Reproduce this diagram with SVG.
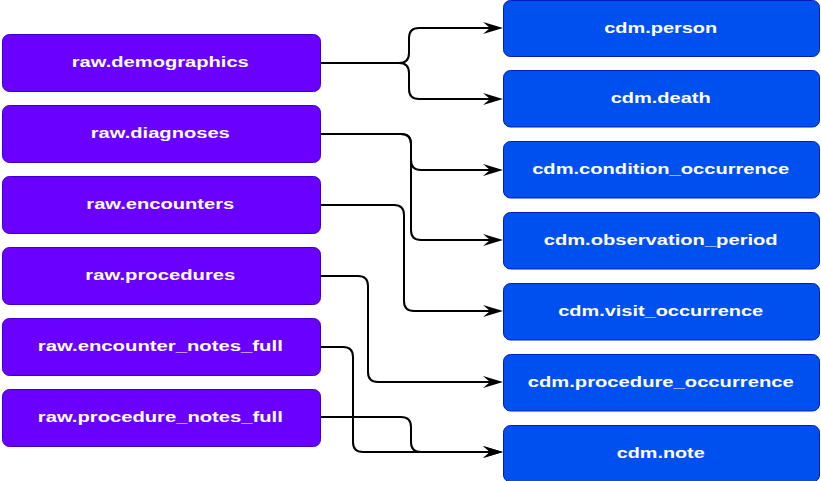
<svg xmlns="http://www.w3.org/2000/svg" width="821" height="481" viewBox="0 0 821 481">
  <style>
    .src rect { fill: #6a00ff; stroke: #3700cc; stroke-width: 1; }
    .dst rect { fill: #0050ef; stroke: #001dbc; stroke-width: 1; }
    text { font-family: "Liberation Sans", Arial, Helvetica, sans-serif; font-weight: bold; font-size: 14px; fill: #ffffff; text-anchor: middle; }
    .edge { fill: none; stroke: #000000; stroke-width: 2; marker-end: url(#arrow); }
  </style>
  <defs>
    <marker id="arrow" viewBox="0 0 20 12" markerWidth="20" markerHeight="12" refX="7" refY="6" orient="auto" markerUnits="userSpaceOnUse">
      <path d="M0,0 L20,6 L0,12 L7,6 Z" fill="#000000"/>
    </marker>
  </defs>
  <rect width="821" height="481" fill="#ffffff"/>

  <g id="connectors">
    <path class="edge" d="M321,63 H399 Q409,63 409,53 V38 Q409,28 419,28 H490"/>
    <path class="edge" d="M321,63 H399 Q409,63 409,73 V89 Q409,99 419,99 H490"/>
    <path class="edge" d="M321,134 H401 Q411,134 411,144 V160 Q411,170 421,170 H490"/>
    <path class="edge" d="M321,134 H401 Q411,134 411,144 V230 Q411,240 421,240 H490"/>
    <path class="edge" d="M321,205 H394 Q404,205 404,215 V301 Q404,311 414,311 H490"/>
    <path class="edge" d="M321,276 H358 Q368,276 368,286 V372 Q368,382 378,382 H490"/>
    <path class="edge" d="M321,347 H343 Q353,347 353,357 V442 Q353,452 363,452 H490"/>
    <path class="edge" d="M321,417 H401 Q411,417 411,427 V442 Q411,452 421,452 H490"/>
  </g>

  <g id="raw_demographics" class="src">
    <rect x="2.5" y="34.5" width="318" height="57" rx="7"/>
    <text x="160.3" y="67" textLength="177" lengthAdjust="spacingAndGlyphs">raw.demographics</text>
  </g>
  <g id="raw_diagnoses" class="src">
    <rect x="2.5" y="105.5" width="318" height="57" rx="7"/>
    <text x="160.3" y="138" textLength="139" lengthAdjust="spacingAndGlyphs">raw.diagnoses</text>
  </g>
  <g id="raw_encounters" class="src">
    <rect x="2.5" y="176.5" width="318" height="57" rx="7"/>
    <text x="160.3" y="209" textLength="148" lengthAdjust="spacingAndGlyphs">raw.encounters</text>
  </g>
  <g id="raw_procedures" class="src">
    <rect x="2.5" y="247.5" width="318" height="57" rx="7"/>
    <text x="160.3" y="280" textLength="150" lengthAdjust="spacingAndGlyphs">raw.procedures</text>
  </g>
  <g id="raw_encounter_notes_full" class="src">
    <rect x="2.5" y="318.5" width="318" height="57" rx="7"/>
    <text x="160.3" y="351" textLength="245" lengthAdjust="spacingAndGlyphs">raw.encounter_notes_full</text>
  </g>
  <g id="raw_procedure_notes_full" class="src">
    <rect x="2.5" y="389.5" width="318" height="57" rx="7"/>
    <text x="160.3" y="421.5" textLength="245" lengthAdjust="spacingAndGlyphs">raw.procedure_notes_full</text>
  </g>

  <g id="cdm_person" class="dst">
    <rect x="503.5" y="0.5" width="316" height="56" rx="7"/>
    <text x="660.7" y="32.5" textLength="113" lengthAdjust="spacingAndGlyphs">cdm.person</text>
  </g>
  <g id="cdm_death" class="dst">
    <rect x="503.5" y="70.5" width="316" height="56.5" rx="7"/>
    <text x="660.7" y="103" textLength="100" lengthAdjust="spacingAndGlyphs">cdm.death</text>
  </g>
  <g id="cdm_condition_occurrence" class="dst">
    <rect x="503.5" y="141.5" width="316" height="56.5" rx="7"/>
    <text x="660.7" y="174" textLength="257" lengthAdjust="spacingAndGlyphs">cdm.condition_occurrence</text>
  </g>
  <g id="cdm_observation_period" class="dst">
    <rect x="503.5" y="212.5" width="316" height="56.5" rx="7"/>
    <text x="660.7" y="245" textLength="234" lengthAdjust="spacingAndGlyphs">cdm.observation_period</text>
  </g>
  <g id="cdm_visit_occurrence" class="dst">
    <rect x="503.5" y="283.5" width="316" height="56.5" rx="7"/>
    <text x="660.7" y="316" textLength="205" lengthAdjust="spacingAndGlyphs">cdm.visit_occurrence</text>
  </g>
  <g id="cdm_procedure_occurrence" class="dst">
    <rect x="503.5" y="354.5" width="316" height="56.5" rx="7"/>
    <text x="660.7" y="387" textLength="266" lengthAdjust="spacingAndGlyphs">cdm.procedure_occurrence</text>
  </g>
  <g id="cdm_note" class="dst">
    <rect x="503.5" y="425.5" width="316" height="56.5" rx="7"/>
    <text x="660.7" y="458" textLength="88" lengthAdjust="spacingAndGlyphs">cdm.note</text>
  </g>
</svg>
